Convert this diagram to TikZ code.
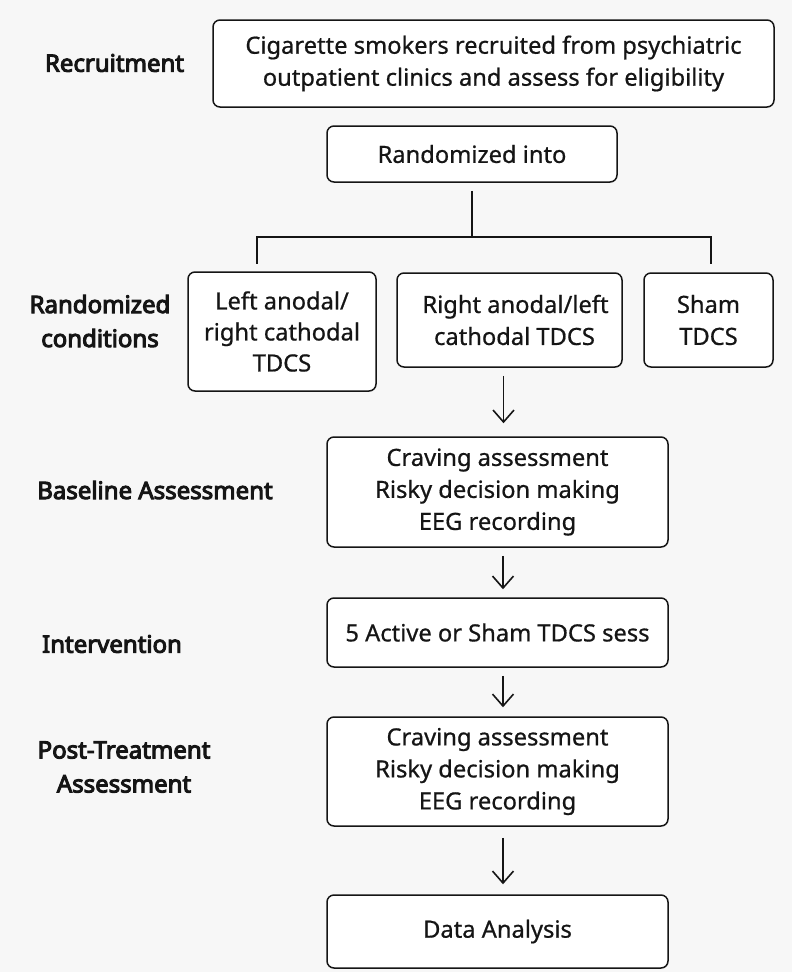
\documentclass[tikz,border=0pt]{standalone}
\usepackage{fontspec}
\setmainfont{Noto Sans}[AutoFakeBold=4.2]
\newfontfamily\boxfont{Noto Sans}[FakeBold=0.7]
\usetikzlibrary{arrows.meta}
\definecolor{bgc}{HTML}{F7F7F7}
\definecolor{ink}{HTML}{151515}
\tikzset{
  box/.style={draw=ink, line width=1.5pt, rounded corners=7pt, fill=white,
    inner sep=0pt, align=center, text=ink,
    font=\boxfont\fontsize{23.7}{32}\selectfont},
  lab/.style={inner sep=0pt, align=center, text=ink,
    font=\fontsize{24}{34}\selectfont\bfseries},
  conn/.style={draw=ink, line width=2pt},
  arr/.style={draw=ink, line width=1.6pt, -{Straight Barb[length=12pt,width=21pt,line width=1.6pt]}}
}
\begin{document}
\begin{tikzpicture}[x=1pt,y=-1pt]
\fill[bgc] (0,0) rectangle (792,972);
\useasboundingbox (0,0) rectangle (792,972);

% side labels
\node[lab] (l1) at (114.5,63) {Recruitment};
\node[lab] (l2) at (100,321) {Randomized\\conditions};
\node[lab] (l3) at (155,490) {Baseline Assessment};
\node[lab] (l4) at (112,644) {Intervention};
\node[lab] (l5) at (124,767) {Post-Treatment\\Assessment};

% boxes
\node[box, minimum width=561pt, minimum height=87pt] (rec) at (493.5,63.5)
  {Cigarette smokers recruited from psychiatric\\outpatient clinics and assess for eligibility};
\node[box, minimum width=290pt, minimum height=56pt] (rnd) at (472,154) {Randomized into};
\node[box, minimum width=188pt, minimum height=119pt, font=\boxfont\fontsize{23.7}{31}\selectfont] (L) at (282,331.5)
  {Left anodal/\\right cathodal\\TDCS};
\node[box, minimum width=225pt, minimum height=94pt] (M) at (509.5,320)
  {\hspace*{12pt}Right anodal/left\\\hspace*{10pt}cathodal TDCS};
\node[box, minimum width=129pt, minimum height=94pt] (S) at (708.5,320) {Sham\\TDCS};
\node[box, minimum width=341pt, minimum height=110pt] (B) at (497.5,492)
  {Craving assessment\\Risky decision making\\EEG recording};
\node[box, minimum width=341pt, minimum height=69pt] (I) at (497.5,632.5)
  {5 Active or Sham TDCS sess};
\node[box, minimum width=341pt, minimum height=109pt] (P) at (497.5,771.5)
  {Craving assessment\\Risky decision making\\EEG recording};
\node[box, minimum width=341pt, minimum height=73pt] (D) at (497.5,931.5)
  {Data Analysis};

% tree connector
\coordinate (j) at (472,237);
\coordinate (lt) at (257,237);
\coordinate (rt) at (711,237);
\draw[conn] ([yshift=-8pt]rnd.south) -- (j);
\draw[conn, line cap=rect] (lt) -- (rt);
\draw[conn] (lt) -- ++(0,27);
\draw[conn] (rt) -- ++(0,27);

% arrows
\draw[arr, shorten <=8pt, shorten >=13pt] ([xshift=6pt]B.north |- M.south) -- ([xshift=6pt]B.north);
\draw[arr, shorten <=8pt, shorten >=8pt] ([xshift=5.5pt]B.south) -- ([xshift=5.5pt]I.north);
\draw[arr, shorten <=8pt, shorten >=9pt] ([xshift=5.5pt]I.south) -- ([xshift=5.5pt]P.north);
\draw[arr, shorten <=11pt, shorten >=10pt] ([xshift=5.5pt]P.south) -- ([xshift=5.5pt]D.north);
\end{tikzpicture}
\end{document}
